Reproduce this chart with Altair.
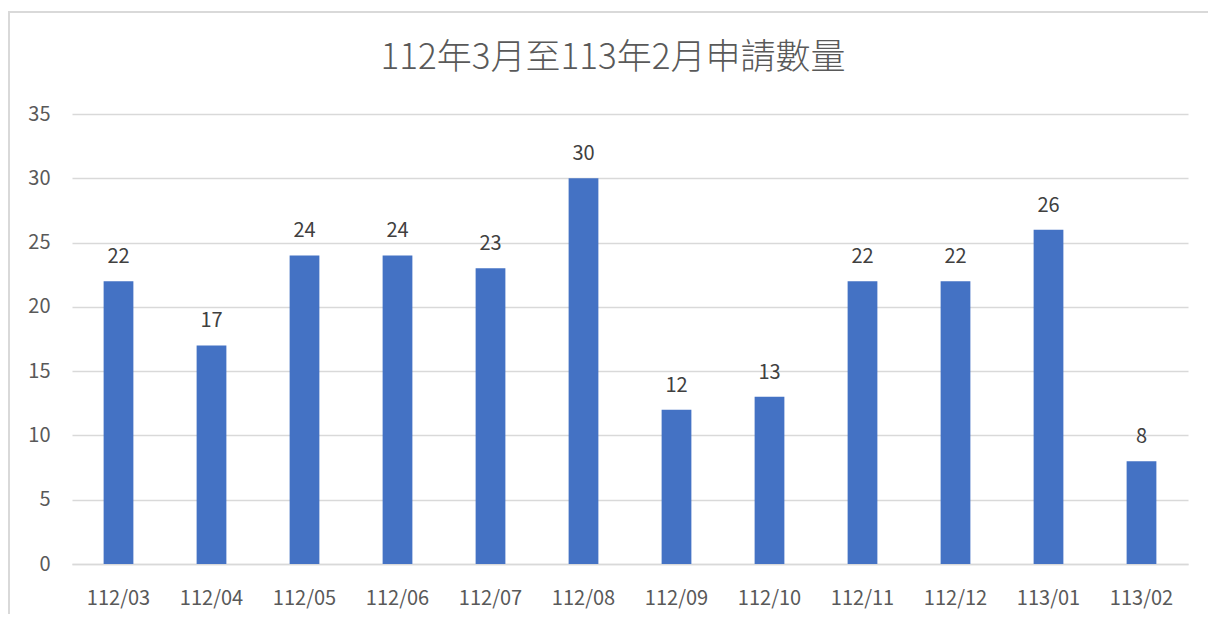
import altair as alt
import pandas as pd

months = ["112/03", "112/04", "112/05", "112/06", "112/07", "112/08",
          "112/09", "112/10", "112/11", "112/12", "113/01", "113/02"]
counts = [22, 17, 24, 24, 23, 30, 12, 13, 22, 22, 26, 8]
title_text = "112年3月至113年2月申請數量"

df = pd.DataFrame({"month": months, "count": counts})

FONT = "Noto Sans CJK TC"
GRAY = "#595959"

x = alt.X("month:N", sort=months, title=None,
          scale=alt.Scale(paddingInner=0.68, paddingOuter=0.34),
          axis=alt.Axis(labelAngle=0, labelFontSize=20, labelColor=GRAY, labelFont=FONT,
                        ticks=False, domainColor="#D9D9D9", domainWidth=1.5,
                        labelPadding=24))
y = alt.Y("count:Q", title=None,
          scale=alt.Scale(domain=[0, 35], nice=False),
          axis=alt.Axis(values=[0, 5, 10, 15, 20, 25, 30, 35], labelFontSize=20,
                        labelColor=GRAY, labelFont=FONT, ticks=False, domain=False,
                        gridColor="#D9D9D9", gridWidth=1.5, labelPadding=22))

bars = alt.Chart(df).mark_bar(color="#4472C4").encode(x=x, y=y)
labels = alt.Chart(df).mark_text(baseline="alphabetic", dy=-18, fontSize=20, color="#404040",
                                 font=FONT).encode(x=x, y=y, text="count:Q")

one = pd.DataFrame({"a": [0]})
border = alt.Chart(one).mark_rect(
    fill=None, stroke="#D9D9D9", strokeWidth=2, clip=False
).encode(x=alt.value(-63), x2=alt.value(1144), y=alt.value(-102), y2=alt.value(520))

title = alt.Chart(one).mark_text(
    fontSize=35, font=FONT, color=GRAY, baseline="middle", align="center", fontWeight=300
).encode(x=alt.value(541), y=alt.value(-56), text=alt.value(title_text))

chart = alt.layer(border, title, bars, labels).properties(
    width=1116, height=450,
    padding={"left": 64, "top": 106, "right": 20, "bottom": 50},
    autosize=alt.AutoSizeParams(type="none"),
).configure_view(stroke=None)

chart.save("out.html", embed_options={"renderer": "svg", "actions": False})
